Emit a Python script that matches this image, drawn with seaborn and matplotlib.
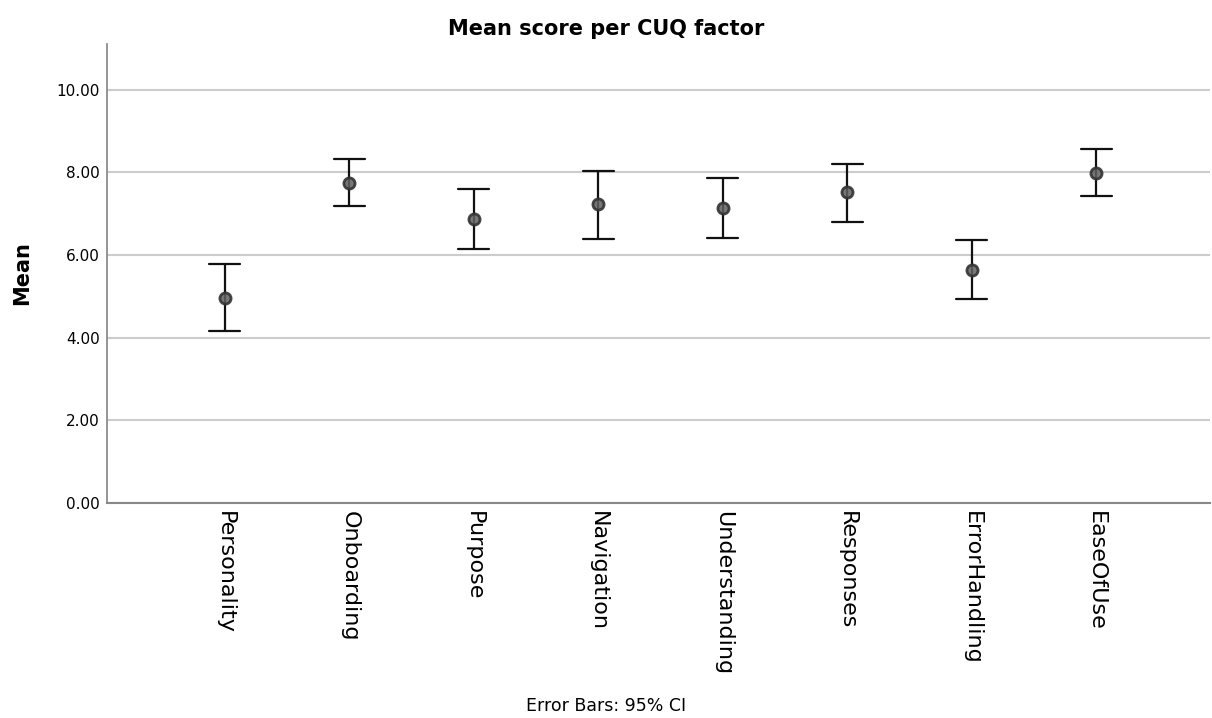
import pandas as pd
import matplotlib
matplotlib.use("Agg")
import matplotlib.pyplot as plt
import seaborn as sns

# values (mean and 95% CI bounds)
factors = ["Personality", "Onboarding", "Purpose", "Navigation",
           "Understanding", "Responses", "ErrorHandling", "EaseOfUse"]
means = [4.97, 7.75, 6.87, 7.22, 7.13, 7.51, 5.64, 7.98]
ci_low = [4.15, 7.19, 6.15, 6.39, 6.41, 6.80, 4.94, 7.42]
ci_high = [5.78, 8.31, 7.60, 8.03, 7.85, 8.21, 6.35, 8.55]

# long form: low / mean / high per factor -> median gives the mean, full range gives the CI
df = pd.concat([
    pd.DataFrame({"factor": factors, "score": ci_low}),
    pd.DataFrame({"factor": factors, "score": means}),
    pd.DataFrame({"factor": factors, "score": ci_high}),
], ignore_index=True)

sns.set_theme(style="white")
plt.rcParams['font.family'] = ['DejaVu Sans']
plt.rcParams['text.color'] = 'black'
plt.rcParams['xtick.color'] = 'black'
plt.rcParams['ytick.color'] = 'black'
plt.rcParams['axes.labelcolor'] = 'black'

fig = plt.figure(figsize=(12.12, 7.18), dpi=100)
ax = fig.add_axes([0.0883, 0.2994, 0.9097, 0.6393])

ax.yaxis.grid(True, color="#cccccc", linewidth=1.5)
ax.set_axisbelow(True)

sns.pointplot(data=df, x="factor", y="score", order=factors,
              estimator="median", errorbar=("pi", 100),
              linestyle="none", marker="o", markersize=8,
              color="#222222", capsize=0.25,
              err_kws={"linewidth": 1.6, "color": "#111111"}, ax=ax)

for line in ax.lines:
    if line.get_marker() == "o":
        line.set_markerfacecolor((0.38, 0.38, 0.38, 0.85))
        line.set_markeredgecolor((0.2, 0.2, 0.2, 0.9))
        line.set_zorder(5)

ax.set_ylim(0, 11.1)
ax.set_xlim(-0.947, 7.91)
ax.set_yticks([0, 2, 4, 6, 8, 10])
ax.set_yticklabels([f"{v:.2f}" for v in [0, 2, 4, 6, 8, 10]], fontsize=11)
ax.tick_params(axis="both", length=0, pad=6)
ax.tick_params(axis="y", pad=5)
ax.set_xticks(range(len(factors)))
ax.set_xticklabels(factors, rotation=-90, fontsize=16, va="top", ha="center")

ax.set_xlabel("")
ax.set_ylabel("Mean", fontsize=15, fontweight="bold", labelpad=18)

for side in ["top", "right"]:
    ax.spines[side].set_visible(False)
ax.spines["left"].set_color("#888888")
ax.spines["bottom"].set_color("#888888")
ax.spines["bottom"].set_linewidth(1.5)

fig.text(0.5, 0.96, "Mean score per CUQ factor", ha="center", va="center",
         fontsize=15, fontweight="bold")
fig.text(0.5, 0.017, "Error Bars: 95% CI", ha="center", va="center", fontsize=12.5)

fig.savefig("out.png", dpi=100)
